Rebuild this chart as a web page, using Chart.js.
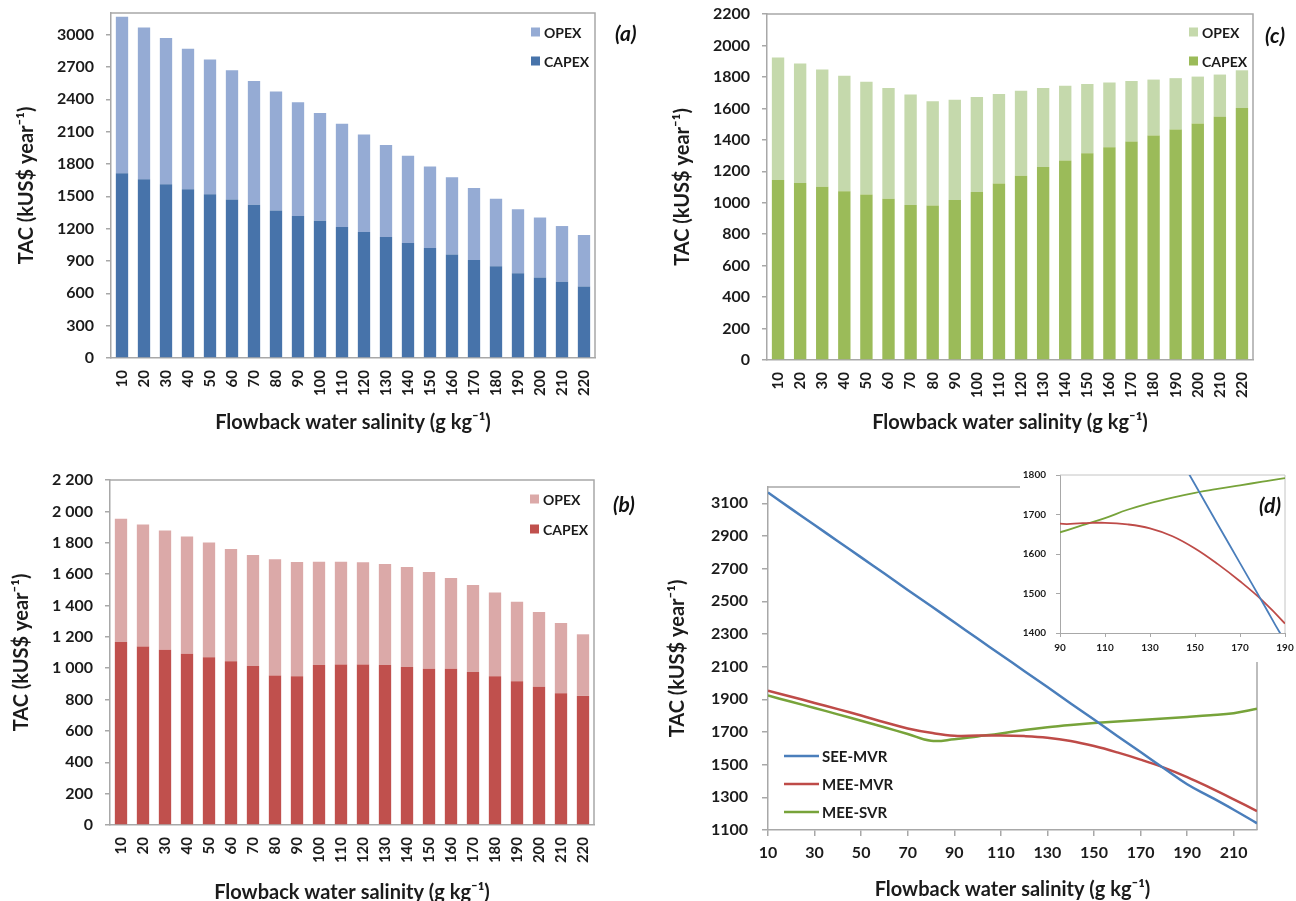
<!DOCTYPE html>
<html>
<head>
<meta charset="utf-8">
<title>TAC versus flowback water salinity</title>
<script src="https://cdn.jsdelivr.net/npm/chart.js@4.4.0/dist/chart.umd.min.js"></script>
<style>
  html, body { margin: 0; padding: 0; background: #fff; }
  body { position: relative; width: 1296px; height: 901px; overflow: hidden; font-family: Lato, "Open Sans", sans-serif; }
  canvas { position: absolute; display: block; }
  .tag { position: absolute; font: italic 700 21px Lato, "Open Sans", sans-serif; line-height: 24px; color: #111; z-index: 10; white-space: nowrap; }
</style>
</head>
<body>
<canvas id="chartA" width="648" height="450" style="left:0px;top:0px"></canvas>
<canvas id="chartC" width="648" height="450" style="left:648px;top:0px"></canvas>
<canvas id="chartB" width="648" height="455" style="left:0px;top:450px"></canvas>
<canvas id="chartD" width="648" height="455" style="left:648px;top:450px"></canvas>
<canvas id="chartInset" width="276" height="200" style="left:1020px;top:462px;z-index:5"></canvas>
<div class="tag" style="left:615px;top:21px">(a)</div>
<div class="tag" style="left:1265px;top:23px">(c)</div>
<div class="tag" style="left:613px;top:492px">(b)</div>
<div class="tag" style="left:1259px;top:493px">(d)</div>

<script>
// Flowback water salinity (g/kg)
const salinity = [10, 20, 30, 40, 50, 60, 70, 80, 90, 100, 110, 120, 130, 140, 150, 160, 170, 180, 190, 200, 210, 220];

// (a) SEE-MVR cost split, kUS$/year
const capexA = [1714, 1658, 1611, 1565, 1518, 1469, 1422, 1367, 1317, 1274, 1215, 1168, 1122, 1066, 1020, 961, 908, 852, 787, 747, 707, 663];
const opexA  = [1452, 1408, 1356, 1303, 1251, 1201, 1148, 1104, 1055, 998, 958, 906, 853, 809, 756, 715, 669, 626, 593, 556, 517, 478];

// (b) MEE-MVR cost split, kUS$/year
const capexB = [1167, 1139, 1118, 1092, 1069, 1044, 1014, 954, 948, 1020, 1024, 1024, 1020, 1007, 997, 997, 976, 948, 916, 882, 840, 823];
const opexB  = [786, 777, 760, 748, 732, 716, 708, 741, 729, 658, 655, 651, 645, 638, 617, 578, 555, 534, 508, 476, 448, 393];

// (c) MEE-SVR cost split, kUS$/year
const capexC = [1144, 1125, 1101, 1073, 1052, 1025, 986, 982, 1018, 1069, 1122, 1171, 1227, 1269, 1314, 1353, 1389, 1427, 1465, 1504, 1546, 1602];
const opexC  = [779, 760, 746, 735, 717, 704, 702, 664, 637, 604, 569, 541, 502, 474, 441, 412, 385, 356, 327, 298, 269, 240];

// Axis tick values
const ticksA      = [0, 300, 600, 900, 1200, 1500, 1800, 2100, 2400, 2700, 3000];
const ticksBC     = [0, 200, 400, 600, 800, 1000, 1200, 1400, 1600, 1800, 2000, 2200];
const ticksDY     = [1100, 1300, 1500, 1700, 1900, 2100, 2300, 2500, 2700, 2900, 3100];
const ticksDX     = [10, 30, 50, 70, 90, 110, 130, 150, 170, 190, 210];
const insetTicksY = [1400, 1500, 1600, 1700, 1800];
const insetTicksX = [90, 110, 130, 150, 170, 190];

const FONT = 'Lato, "Open Sans", sans-serif';
const AXIS = '#a8a8a8';
const TXT = '#1b1b1b';
const X_TITLE = 'Flowback water salinity (g kg\u207B\u00B9)';
const Y_TITLE = 'TAC (kUS$ year\u207B\u00B9)';

// Total annual cost = CAPEX + OPEX for each salinity
const total = (c, o) => c.map((v, i) => v + o[i]);
const asPoints = (arr) => salinity.map((x, i) => ({ x: x, y: arr[i] }));

// Top and right edges of the plot frame
const frame = {
  id: 'frame',
  beforeDatasetsDraw(chart, args, o) {
    const { ctx, chartArea: a } = chart;
    ctx.save();
    ctx.strokeStyle = o.color;
    ctx.lineWidth = o.width;
    ctx.beginPath();
    ctx.moveTo(a.left, a.top);
    ctx.lineTo(a.right, a.top);
    ctx.lineTo(a.right, a.bottom);
    ctx.stroke();
    ctx.restore();
  }
};

// Legend drawn inside the plot area
const innerLegend = {
  id: 'innerLegend',
  afterDatasetsDraw(chart, args, o) {
    if (!o || !o.items) return;
    const { ctx, chartArea: a } = chart;
    ctx.save();
    ctx.font = '700 ' + o.size + 'px ' + FONT;
    ctx.textBaseline = 'middle';
    ctx.textAlign = 'left';
    o.items.forEach((di, k) => {
      const ds = chart.data.datasets[di];
      if (o.kind === 'box') {
        const x = a.right - o.fromRight;
        const y = a.top + o.rows[k];
        ctx.fillStyle = ds.backgroundColor;
        ctx.fillRect(x, y - o.box / 2, o.box, o.box);
        ctx.fillStyle = TXT;
        ctx.fillText(ds.label, x + o.box + 4, y + 1);
      } else {
        const x = a.left + o.fromLeft;
        const y = a.bottom + o.rows[k];
        ctx.strokeStyle = ds.borderColor;
        ctx.lineWidth = 2.5;
        ctx.beginPath();
        ctx.moveTo(x, y);
        ctx.lineTo(x + o.len, y);
        ctx.stroke();
        ctx.fillStyle = TXT;
        ctx.fillText(ds.label, x + o.len + 3, y + 1);
      }
    });
    ctx.restore();
  }
};

// White card behind the zoomed inset
const whiteCard = {
  id: 'whiteCard',
  beforeDraw(chart) {
    const ctx = chart.ctx;
    ctx.save();
    ctx.fillStyle = '#ffffff';
    ctx.fillRect(0, 0, chart.width, chart.height);
    ctx.restore();
  }
};

const plainNum = (v) => String(v);
const spacedNum = (v) => v >= 1000 ? Math.floor(v / 1000) + ' ' + String(v % 1000).padStart(3, '0') : String(v);

function barChart(id, capex, opex, colors, yTicks, yMax, fmt, L) {
  return new Chart(document.getElementById(id), {
    type: 'bar',
    data: {
      labels: salinity,
      datasets: [
        { label: 'CAPEX', data: capex, backgroundColor: colors[0], barPercentage: 0.56, categoryPercentage: 1.0 },
        { label: 'OPEX', data: opex, backgroundColor: colors[1], barPercentage: 0.56, categoryPercentage: 1.0 }
      ]
    },
    options: {
      responsive: false,
      animation: false,
      events: [],
      layout: { padding: { left: 0, top: L.top, right: L.right, bottom: 0 } },
      plugins: {
        legend: { display: false },
        tooltip: { enabled: false },
        frame: { color: AXIS, width: 1.5 },
        innerLegend: { kind: 'box', items: [1, 0], fromRight: 64, rows: L.rows, box: 9, size: 14 }
      },
      scales: {
        x: {
          stacked: true,
          grid: { display: false, drawTicks: false },
          border: { display: true, color: AXIS, width: 1.5 },
          ticks: { autoSkip: false, minRotation: 90, maxRotation: 90, padding: 12, color: TXT,
                   font: { family: FONT, size: 15, weight: '700' } },
          title: { display: true, text: X_TITLE, color: TXT,
                   font: { family: FONT, size: 20, weight: '700' }, padding: { top: 0, bottom: L.xtPad } },
          afterFit(s) { s.height = L.xH; s.paddingLeft = 0; s.paddingRight = 0; }
        },
        y: {
          stacked: true,
          min: 0,
          max: yMax,
          afterBuildTicks(s) { s.ticks = yTicks.map(v => ({ value: v })); },
          grid: { display: true, drawOnChartArea: false, drawTicks: true, tickLength: 5, color: AXIS, lineWidth: 1.5 },
          border: { display: true, color: AXIS, width: 1.5 },
          ticks: { padding: 12, color: TXT, callback: fmt, font: { family: FONT, size: 16, weight: '700' } },
          title: { display: true, text: Y_TITLE, color: TXT,
                   font: { family: FONT, size: 20, weight: '700' }, padding: { top: L.ytPad, bottom: 0 } },
          afterFit(s) { s.width = L.yW; s.paddingTop = 0; s.paddingBottom = 0; }
        }
      }
    },
    plugins: [frame, innerLegend]
  });
}

function build() {
  const totalA = total(capexA, opexA);
  const totalB = total(capexB, opexB);
  const totalC = total(capexC, opexC);

  barChart('chartA', capexA, opexA, ['#4773aa', '#95abd4'], ticksA, 3200, plainNum,
    { top: 13, right: 53, yW: 111, xH: 92, xtPad: 15, ytPad: 15, rows: [19, 48] });
  barChart('chartC', capexC, opexC, ['#9bbb59', '#c5d9ac'], ticksBC, 2200, plainNum,
    { top: 14, right: 43, yW: 119, xH: 90, xtPad: 15, ytPad: 23, rows: [18, 47] });
  barChart('chartB', capexB, opexB, ['#c0504d', '#dba9a8'], ticksBC, 2200, spacedNum,
    { top: 30, right: 54, yW: 110, xH: 80, xtPad: 0, ytPad: 10, rows: [19, 49] });

  const lineSets = (w) => [
    { label: 'SEE-MVR', data: asPoints(totalA), borderColor: '#4a7ebb', borderWidth: w, pointRadius: 0, tension: 0.4, fill: false },
    { label: 'MEE-MVR', data: asPoints(totalB), borderColor: '#be4b48', borderWidth: w, pointRadius: 0, tension: 0.4, fill: false },
    { label: 'MEE-SVR', data: asPoints(totalC), borderColor: '#77a33a', borderWidth: w, pointRadius: 0, tension: 0.4, fill: false }
  ];

  // (d) total annual cost of the three configurations
  new Chart(document.getElementById('chartD'), {
    type: 'line',
    data: { datasets: lineSets(2.5) },
    options: {
      responsive: false,
      animation: false,
      events: [],
      layout: { padding: { left: 0, top: 37, right: 39, bottom: 0 } },
      plugins: {
        legend: { display: false },
        tooltip: { enabled: false },
        frame: { color: AXIS, width: 1.5 },
        innerLegend: { kind: 'line', items: [0, 1, 2], fromLeft: 16, len: 35, rows: [-74, -46, -18], size: 15 }
      },
      scales: {
        x: {
          type: 'linear',
          min: 10,
          max: 220,
          afterBuildTicks(s) { s.ticks = ticksDX.map(v => ({ value: v })); },
          grid: { display: true, drawOnChartArea: false, drawTicks: true, tickLength: 6, color: AXIS, lineWidth: 1.5 },
          border: { display: true, color: AXIS, width: 1.5 },
          ticks: { padding: 7, color: TXT, callback: plainNum, maxRotation: 0, autoSkip: false,
                   font: { family: FONT, size: 16, weight: '700' } },
          title: { display: true, text: X_TITLE, color: TXT,
                   font: { family: FONT, size: 20, weight: '700' }, padding: { top: 0, bottom: 3 } },
          afterFit(s) { s.height = 75; s.paddingLeft = 0; s.paddingRight = 0; }
        },
        y: {
          min: 1100,
          max: 3200,
          afterBuildTicks(s) { s.ticks = ticksDY.map(v => ({ value: v })); },
          grid: { display: true, drawOnChartArea: false, drawTicks: true, tickLength: 6, color: AXIS, lineWidth: 1.5 },
          border: { display: true, color: AXIS, width: 1.5 },
          ticks: { padding: 14, color: TXT, callback: plainNum, font: { family: FONT, size: 16, weight: '700' } },
          title: { display: true, text: Y_TITLE, color: TXT,
                   font: { family: FONT, size: 20, weight: '700' }, padding: { top: 18, bottom: 0 } },
          afterFit(s) { s.width = 120; s.paddingTop = 0; s.paddingBottom = 0; }
        }
      }
    },
    plugins: [frame, innerLegend]
  });

  // Zoomed view of (d) between 90 and 190 g/kg
  new Chart(document.getElementById('chartInset'), {
    type: 'line',
    data: { datasets: lineSets(1.8) },
    options: {
      responsive: false,
      animation: false,
      events: [],
      layout: { padding: { left: 0, top: 13, right: 11, bottom: 0 } },
      plugins: {
        legend: { display: false },
        tooltip: { enabled: false },
        frame: { color: '#c4c4c4', width: 1 }
      },
      scales: {
        x: {
          type: 'linear',
          min: 90,
          max: 190,
          afterBuildTicks(s) { s.ticks = insetTicksX.map(v => ({ value: v })); },
          grid: { display: true, drawOnChartArea: false, drawTicks: true, tickLength: 4, color: AXIS, lineWidth: 1 },
          border: { display: true, color: AXIS, width: 1 },
          ticks: { padding: 5, color: TXT, callback: plainNum, maxRotation: 0, autoSkip: false,
                   font: { family: FONT, size: 10, weight: '700' } },
          afterFit(s) { s.height = 29; s.paddingLeft = 0; s.paddingRight = 0; }
        },
        y: {
          min: 1400,
          max: 1800,
          afterBuildTicks(s) { s.ticks = insetTicksY.map(v => ({ value: v })); },
          grid: { display: true, drawOnChartArea: false, drawTicks: true, tickLength: 4, color: AXIS, lineWidth: 1 },
          border: { display: true, color: AXIS, width: 1 },
          ticks: { padding: 10, color: TXT, callback: plainNum, font: { family: FONT, size: 10, weight: '700' } },
          afterFit(s) { s.width = 40; s.paddingTop = 0; s.paddingBottom = 0; }
        }
      }
    },
    plugins: [whiteCard, frame]
  });
}

const fontReady = (document.fonts && document.fonts.load)
  ? Promise.all([
      document.fonts.load('700 16px Lato'),
      document.fonts.load('italic 700 21px Lato')
    ]).catch(() => null)
  : Promise.resolve();
fontReady.then(build, build);
</script>
</body>
</html>
